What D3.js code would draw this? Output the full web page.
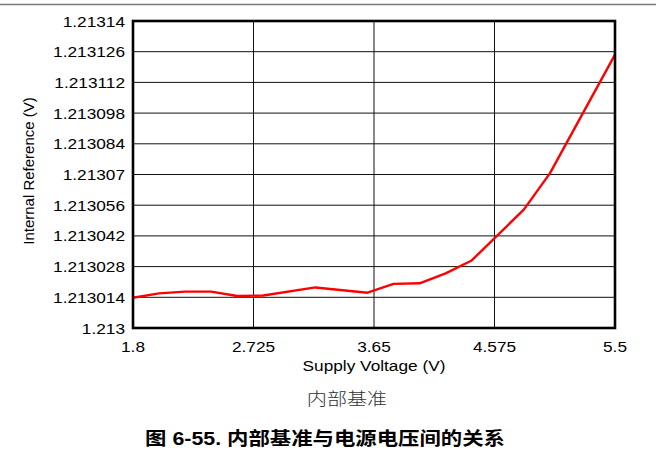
<!DOCTYPE html>
<html>
<head>
<meta charset="utf-8">
<script src="https://cdn.jsdelivr.net/npm/d3@7"></script>
<style>
  html, body { margin: 0; padding: 0; background: #fff; }
  svg { display: block; }
  text { font-family: "Liberation Sans", Arial, "Noto Sans CJK SC", sans-serif; }
</style>
</head>
<body>
<svg id="chart" width="656" height="464"></svg>
<script>
// Supply voltage (V) and the measured internal reference (V)
const supplyVoltage = [1.8, 2.0, 2.2, 2.4, 2.6, 2.8, 3.2, 3.6, 3.8, 4.0, 4.2, 4.4, 4.8, 5.0, 5.5];
const internalRef = [1.2130138, 1.2130158, 1.2130166, 1.2130166, 1.2130146, 1.2130148, 1.2130185,
                     1.2130161, 1.2130201, 1.2130204, 1.2130249, 1.2130308, 1.2130540, 1.2130705, 1.2131247];

const xTicks = [1.8, 2.725, 3.65, 4.575, 5.5];
const xTickLabels = ["1.8", "2.725", "3.65", "4.575", "5.5"];
const yTicks = [1.213, 1.213014, 1.213028, 1.213042, 1.213056, 1.21307, 1.213084, 1.213098, 1.213112, 1.213126, 1.21314];
const yTickLabels = ["1.213", "1.213014", "1.213028", "1.213042", "1.213056", "1.21307", "1.213084", "1.213098", "1.213112", "1.213126", "1.21314"];

const xTitle = "Supply Voltage (V)";
const yTitle = "Internal Reference (V)";
const subTitle = "内部基准";
const caption = "图 6-55. 内部基准与电源电压间的关系";

const svg = d3.select("#chart");
const plot = { left: 133, right: 615, top: 21, bottom: 328 };
const sx = 1.15; // horizontal text stretch

const x = d3.scaleLinear().domain([1.8, 5.5]).range([plot.left, plot.right]);
const y = d3.scaleLinear().domain([1.213, 1.21314]).range([plot.bottom, plot.top]);

// page rule at the top
svg.append("line")
  .attr("x1", 0).attr("x2", 656).attr("y1", 4.5).attr("y2", 4.5)
  .attr("stroke", "#7a7a7a").attr("stroke-width", 1.5);

// grid lines
const grid = svg.append("g");
grid.selectAll("line.h").data(yTicks.slice(1, -1)).join("line")
  .attr("x1", plot.left).attr("x2", plot.right)
  .attr("y1", d => y(d)).attr("y2", d => y(d))
  .attr("stroke", "#111").attr("stroke-width", 1);
grid.selectAll("line.v").data(xTicks.slice(1, -1)).join("line")
  .attr("y1", plot.top).attr("y2", plot.bottom)
  .attr("x1", d => x(d)).attr("x2", d => x(d))
  .attr("stroke", "#111").attr("stroke-width", 1);

// data line
const line = d3.line().x((d, i) => x(supplyVoltage[i])).y(d => y(d));
svg.append("path")
  .datum(internalRef)
  .attr("d", line)
  .attr("fill", "none")
  .attr("stroke", "#ff0000")
  .attr("stroke-width", 2.4)
  .attr("stroke-linejoin", "round");

// plot frame
svg.append("rect")
  .attr("x", plot.left).attr("y", plot.top)
  .attr("width", plot.right - plot.left).attr("height", plot.bottom - plot.top)
  .attr("fill", "none").attr("stroke", "#000").attr("stroke-width", 2.6);

// y tick labels
svg.append("g").selectAll("text").data(yTicks).join("text")
  .attr("transform", d => `translate(125,${y(d) + 5.5}) scale(${sx},1)`)
  .attr("text-anchor", "end")
  .attr("font-size", 15)
  .attr("fill", "#000")
  .text((d, i) => yTickLabels[i]);

// x tick labels
svg.append("g").selectAll("text").data(xTicks).join("text")
  .attr("transform", d => `translate(${x(d)},352) scale(${sx},1)`)
  .attr("text-anchor", "middle")
  .attr("font-size", 15)
  .attr("fill", "#000")
  .text((d, i) => xTickLabels[i]);

// axis titles
svg.append("text")
  .attr("transform", `translate(374,371) scale(${sx},1)`)
  .attr("text-anchor", "middle")
  .attr("font-size", 15)
  .text(xTitle);

svg.append("text")
  .attr("transform", "translate(34,171) rotate(-90)")
  .attr("text-anchor", "middle")
  .attr("font-size", 15)
  .text(yTitle);

// sub title and figure caption
svg.append("text")
  .attr("transform", `translate(347,405) scale(${sx},1)`)
  .attr("text-anchor", "middle")
  .attr("font-size", 17.5)
  .attr("fill", "#333")
  .style("font-family", "'Noto Sans CJK SC', sans-serif")
  .style("font-weight", 300)
  .text(subTitle);

svg.append("text")
  .attr("transform", `translate(325,445) scale(${sx},1)`)
  .attr("text-anchor", "middle")
  .attr("font-size", 18.6)
  .attr("font-weight", "bold")
  .attr("fill", "#000")
  .text(caption);
</script>
</body>
</html>
